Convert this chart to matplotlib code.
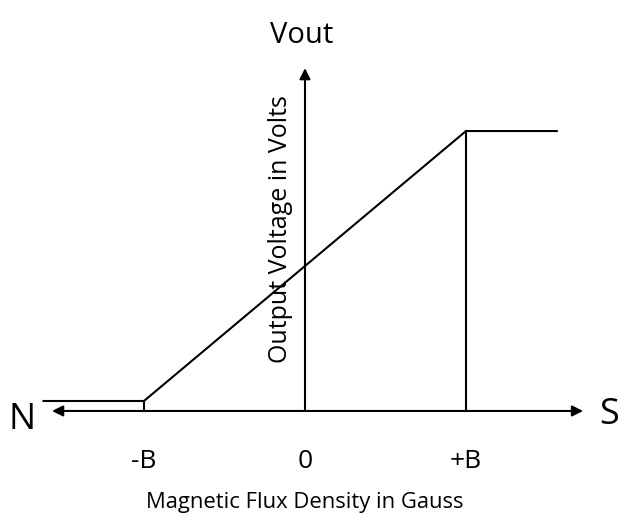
import matplotlib.pyplot as plt

# transfer curve of a linear hall sensor (x in units of B)
flux = [-1.63, -1.0, 1.0, 1.57]
vout = [0.062, 0.062, 1.739, 1.739]

tick_pos = [-1.0, 0.0, 1.0]
tick_labels = ['-B', '0', '+B']

x_axis = (-1.571, 1.727)
y_axis_top = 2.13

plt.rcParams['font.family'] = ['Open Sans', 'DejaVu Sans']

fig = plt.figure(figsize=(6.19, 5.14), dpi=100)
ax = fig.add_axes([0, 0, 1, 1])
ax.set_xlim(-1.894, 1.950)
ax.set_ylim(-0.640, 2.553)
ax.axis('off')

lw = 1.5
ax.plot(flux, vout, color='black', lw=lw, solid_capstyle='butt')
# drop lines at -B and +B
ax.plot([flux[1], flux[1]], [0, vout[1]], color='black', lw=lw)
ax.plot([flux[2], flux[2]], [0, vout[2]], color='black', lw=lw)

arrow = dict(arrowstyle='<|-|>', color='black', lw=lw, mutation_scale=16,
             shrinkA=0, shrinkB=0)
ax.annotate('', xy=(x_axis[0], 0), xytext=(x_axis[1], 0), arrowprops=arrow)
ax.annotate('', xy=(0, y_axis_top), xytext=(0, 0),
            arrowprops=dict(arrowstyle='-|>', color='black', lw=lw,
                            mutation_scale=16, shrinkA=0, shrinkB=0))

for p, t in zip(tick_pos, tick_labels):
    ax.text(p, -0.311, t, ha='center', va='center', fontsize=19)

ax.text(-1.758, -0.059, 'N', ha='center', va='center', fontsize=26)
ax.text(1.891, -0.025, 'S', ha='center', va='center', fontsize=26)
ax.text(-0.022, 2.335, 'Vout', ha='center', va='center', fontsize=21)
ax.text(-0.155, 1.13, 'Output Voltage in Volts', rotation=90,
        ha='center', va='center', fontsize=18)
ax.text(0, -0.568, 'Magnetic Flux Density in Gauss', ha='center',
        va='center', fontsize=15.8)

fig.savefig('out.png', dpi=100)
